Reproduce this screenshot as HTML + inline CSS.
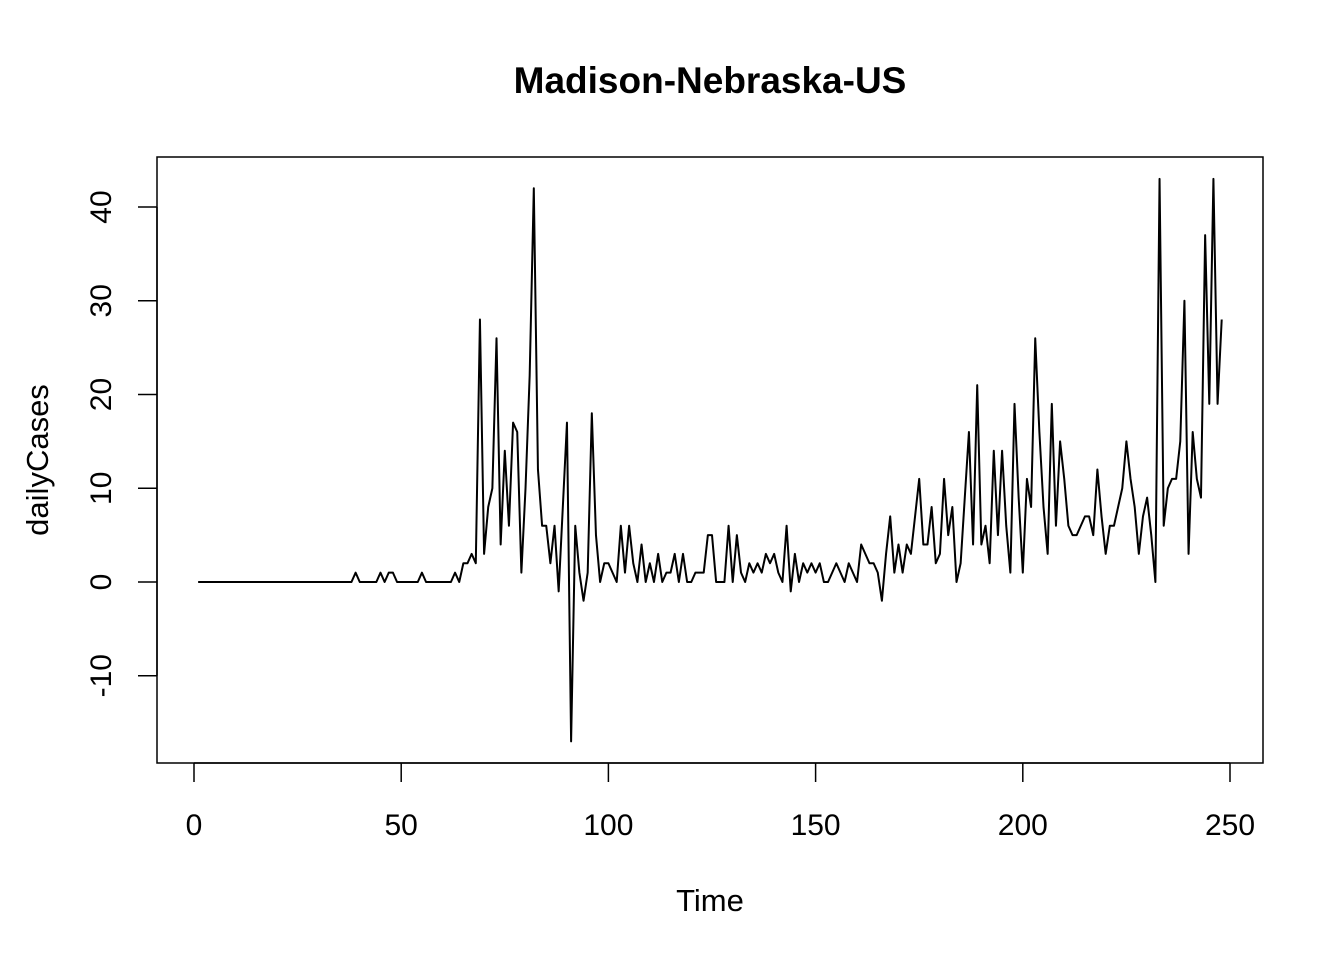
<!DOCTYPE html>
<html><head><meta charset="utf-8"><style>
html,body{margin:0;padding:0;background:#fff;}
svg text{font-family:"Liberation Sans",Arial,sans-serif;fill:#000;}
</style></head><body>
<svg id="chart" width="1344" height="960" viewBox="0 0 1344 960">
<rect width="1344" height="960" fill="#fff"/>
<text x="710" y="93" text-anchor="middle" font-size="37" font-weight="bold">Madison-Nebraska-US</text>
<rect x="157" y="157" width="1106" height="606" fill="none" stroke="#000" stroke-width="1.5"/>
<g id="xaxis"></g>
<g id="yaxis"></g>
<text x="710" y="911" text-anchor="middle" font-size="31">Time</text>
<text transform="translate(48,460) rotate(-90)" text-anchor="middle" font-size="31">dailyCases</text>
<path id="series" fill="none" stroke="#000" stroke-width="2" stroke-linejoin="round"/>
</svg>
<script>
const xTicks=[0,50,100,150,200,250];
const yTicks=[-10,0,10,20,30,40];
const dailyCases=[
0,0,0,0,0,0,0,0,0,0,0,0,0,0,0,0,0,0,0,0,0,0,0,0,0,0,0,0,0,0,0,0,0,0,0,0,0,0,1,0,
0,0,0,0,1,0,1,1,0,0,0,0,0,0,1,0,0,0,0,0,0,0,1,0,2,2,3,2,28,3,
8,10,26,4,14,6,17,16,1,10,22,42,12,6,6,2,6,-1,8,17,-17,6,1,-2,1,18,5,0,2,2,
1,0,6,1,6,2,0,4,0,2,0,3,0,1,1,3,0,3,0,0,1,1,1,5,5,0,0,0,6,0,
5,1,0,2,1,2,1,3,2,3,1,0,6,-1,3,0,2,1,2,1,2,0,0,1,2,1,0,2,1,0,
4,3,2,2,1,-2,3,7,1,4,1,4,3,7,11,4,4,8,2,3,11,5,8,0,2,9,16,4,21,4,
6,2,14,5,14,6,1,19,9,1,11,8,26,16,8,3,19,6,15,11,6,5,5,6,7,7,5,12,7,3,
6,6,8,10,15,11,8,3,7,9,5,0,43,6,10,11,11,15,30,3,16,11,9,37,19,43,19,28];
const NS="http://www.w3.org/2000/svg";
function xs(t){return 194+(t/250)*(1230-194);}
function ys(v){return 582-(v/40)*(582-207);}
const xg=document.getElementById('xaxis'), yg=document.getElementById('yaxis');
function add(g,tag,attrs,txt){const e=document.createElementNS(NS,tag);for(const k in attrs)e.setAttribute(k,attrs[k]);if(txt!==undefined)e.textContent=txt;g.appendChild(e);return e;}
const xl=add(xg,'line',{x1:xs(xTicks[0]),x2:xs(xTicks[xTicks.length-1]),y1:763,y2:763,stroke:'#000','stroke-width':1.5});


xTicks.forEach(t=>{
 const l=add(xg,'line',{x1:xs(t),x2:xs(t),y1:763,y2:782,stroke:'#000','stroke-width':1.5});
 
 
 const tx=add(xg,'text',{x:xs(t),y:835,'text-anchor':'middle','font-size':30},String(t));
 
 
});
const yl=add(yg,'line',{x1:157,x2:157,y1:ys(yTicks[0]),y2:ys(yTicks[yTicks.length-1]),stroke:'#000','stroke-width':1.5});


yTicks.forEach(v=>{
 const l=add(yg,'line',{x1:138,x2:157,y1:ys(v),y2:ys(v),stroke:'#000','stroke-width':1.5});
 
 
 const tx=add(yg,'text',{transform:`translate(111,${ys(v)}) rotate(-90)`,'text-anchor':'middle','font-size':30},String(v));
 
 
});
let d='';
dailyCases.forEach((v,i)=>{d+=(i?'L':'M')+xs(i+1).toFixed(2)+','+ys(v).toFixed(2);});
document.getElementById('series').setAttribute('d',d);
</script>
</body></html>
